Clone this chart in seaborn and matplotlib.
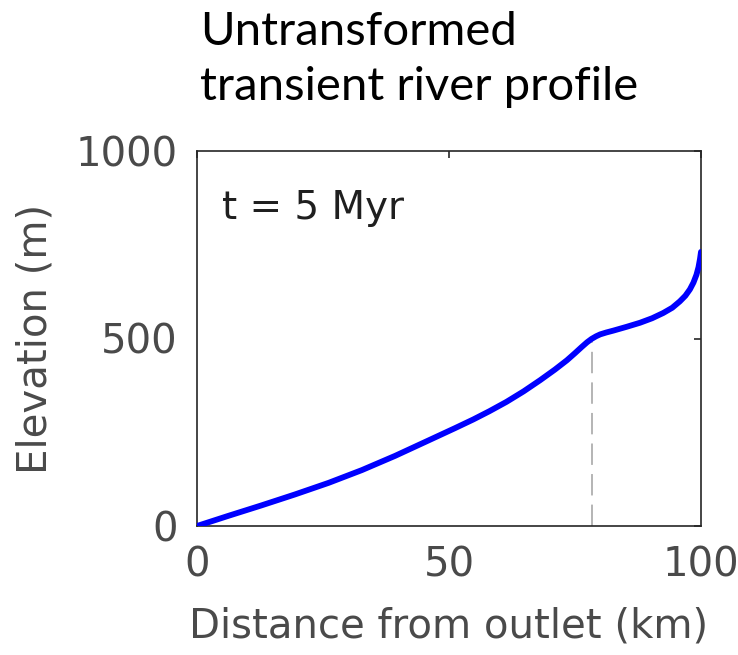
import matplotlib
matplotlib.use("Agg")
import matplotlib.pyplot as plt
import seaborn as sns
import pandas as pd

# River long profile at t = 5 Myr
distance_km = [0, 6.2, 12.8, 19.4, 26.1, 32.7, 39.3, 45.9, 51.2, 54.8,
               58.0, 61.4, 64.8, 68.1, 71.0, 73.4, 75.0, 76.3, 77.4, 78.3,
               79.2, 80.0, 81.2, 82.6, 85.2, 87.9, 90.3, 92.5, 94.3, 95.8,
               96.9, 97.8, 98.5, 99.1, 99.5, 99.8, 100.0]
elevation_m = [0, 27, 55, 84, 115, 149, 187, 228, 261, 284,
               306, 331, 359, 389, 417, 442, 461, 477, 490, 499,
               506, 511, 516, 521, 531, 542, 554, 568, 582, 599,
               614, 631, 649, 670, 690, 712, 731]

# Knickpoint location and elevation
knick_km = 78.3
knick_m = 499

x_ticks = [0, 50, 100]
y_ticks = [0, 500, 1000]
title_lines = ["Untransformed", "transient river profile"]
time_label = "t = 5 Myr"

sns.set_style("white")
plt.rcParams["font.family"] = ["DejaVu Sans"]

df = pd.DataFrame({"distance": distance_km, "elevation": elevation_m})

fig = plt.figure(figsize=(7.38, 6.55), dpi=100)
ax = fig.add_axes([197 / 738, 1 - 526 / 655, (701 - 197) / 738, (526 - 151) / 655])

sns.lineplot(data=df, x="distance", y="elevation", ax=ax,
             color="#0000ff", linewidth=4.2, sort=False, zorder=3)
ax.plot([knick_km, knick_km], [0, knick_m], color="#a0a0a0",
        linewidth=1.1, dashes=(14, 6), zorder=2)

ax.set_xlim(0, 100)
ax.set_ylim(0, 1000)
ax.set_xticks(x_ticks)
ax.set_yticks(y_ticks)

spine_color = "#262626"
text_color = "#4a4a4a"
for s in ax.spines.values():
    s.set_visible(True)
    s.set_color(spine_color)
    s.set_linewidth(1.2)
ax.tick_params(direction="in", length=5, width=1.2, color=spine_color,
               top=True, right=True, labelsize=29, labelcolor=text_color, pad=14)

ax.set_xlabel("Distance from outlet (km)", fontsize=29, color=text_color, labelpad=15)
ax.set_ylabel("Elevation (m)", fontsize=29, color=text_color, labelpad=14)

ax.text(0.05, 0.848, time_label, transform=ax.transAxes, fontsize=28,
        color="#1f1f1f", ha="left", va="center")

fig.text(200 / 738, 1 - 45 / 655, title_lines[0], fontsize=34, family="Lato",
         color="black", ha="left", va="baseline")
fig.text(200 / 738, 1 - 100 / 655, title_lines[1], fontsize=34, family="Lato",
         color="black", ha="left", va="baseline")

fig.savefig("out.png", dpi=100)
